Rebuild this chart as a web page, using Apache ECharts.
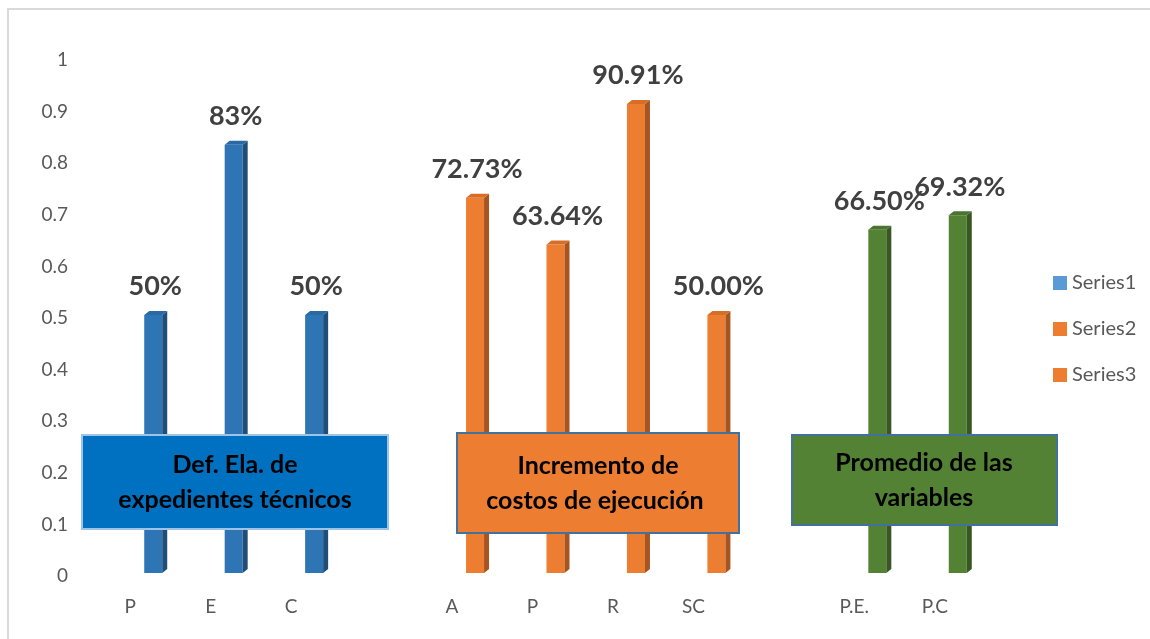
<!DOCTYPE html>
<html>
<head>
<meta charset="utf-8">
<script src="https://cdn.jsdelivr.net/npm/echarts@6/dist/echarts.min.js"></script>
<style>
  html, body { margin: 0; padding: 0; background: #fff; }
  #chart { width: 1150px; height: 639px; }
</style>
</head>
<body>
<div id="chart"></div>
<script>
// categorias (con huecos entre grupos)
const categories = ['P', 'E', 'C', '', 'A', 'P', 'R', 'SC', '', 'P.E.', 'P.C']
const yTicks = [0, 0.1, 0.2, 0.3, 0.4, 0.5, 0.6, 0.7, 0.8, 0.9, 1]

const series1Idx = [0, 1, 2]
const series1Val = [0.5, 0.83, 0.5]
const series2Idx = [4, 5, 6, 7]
const series2Val = [0.7273, 0.6364, 0.9091, 0.5]
const series3Idx = [9, 10]
const series3Val = [0.665, 0.6932]

const FONT = 'Lato, "Open Sans", sans-serif'

// barra 3D: cara frontal, lateral y superior
function bar3d(colors, decimals) {
  return function(params, api) {
    const base = api.coord([api.value(0), 0])
    const top = api.coord([api.value(0), api.value(1)])
    const w = 18
    const dx = 5
    const dy = 4
    const xl = base[0] + 14
    const xr = xl + w
    const yb = base[1] - 3
    const yt = top[1] - 3
    return {
      type: 'group',
      children: [
        {
          type: 'rect',
          shape: { x: xl, y: yt, width: w, height: yb - yt },
          style: { fill: colors[0] }
        },
        {
          type: 'polygon',
          shape: { points: [[xr, yt], [xr + dx, yt - dy], [xr + dx, yb - dy], [xr, yb]] },
          style: { fill: colors[1] }
        },
        {
          type: 'polygon',
          shape: { points: [[xl, yt], [xl + dx, yt - dy], [xr + dx, yt - dy], [xr, yt]] },
          style: { fill: colors[2] }
        },
        {
          type: 'text',
          style: {
            x: xl + 11,
            y: yt - 15,
            text: (api.value(1) * 100).toFixed(decimals) + '%',
            align: 'center',
            verticalAlign: 'bottom',
            fill: '#404040',
            font: 'bold 27px ' + FONT
          }
        }
      ]
    }
  }
}

function pairs(idx, vals) {
  return idx.map((c, i) => [c, vals[i]])
}

function textBox(x, y, w, h, fill, stroke, lines, cx) {
  return {
    type: 'group',
    zlevel: 1,
    children: [
      {
        type: 'rect',
        z: 100,
        zlevel: 1,
        shape: { x: x, y: y, width: w, height: h },
        style: { fill: fill, stroke: stroke, lineWidth: 2 }
      },
      {
        type: 'text',
        z: 101,
        zlevel: 1,
        style: {
          x: cx,
          y: y + h / 2,
          text: lines.join('\n'),
          align: 'center',
          verticalAlign: 'middle',
          lineHeight: 35,
          fill: '#000',
          font: 'bold 25px ' + FONT
        }
      }
    ]
  }
}

const myChart = echarts.init(document.getElementById('chart'))
myChart.setOption({
  animation: false,
  backgroundColor: '#fff',
  grid: { left: 90, right: 175, top: 60, bottom: 63 },
  legend: {
    orient: 'vertical',
    left: 1048,
    top: 268,
    itemWidth: 14,
    itemHeight: 14,
    itemGap: 26,
    icon: 'rect',
    textStyle: { color: '#595959', fontSize: 20, fontFamily: FONT },
    data: ['Series1', 'Series2', 'Series3']
  },
  xAxis: {
    type: 'category',
    data: categories,
    axisLine: { show: false },
    axisTick: { show: false },
    axisLabel: { color: '#595959', fontSize: 19, fontFamily: FONT, margin: 21, interval: 0 }
  },
  yAxis: {
    type: 'value',
    min: yTicks[0],
    max: yTicks[yTicks.length - 1],
    interval: 0.1,
    splitLine: { show: false },
    axisLine: { show: false },
    axisTick: { show: false },
    axisLabel: { color: '#595959', fontSize: 19, fontFamily: FONT, margin: 22 }
  },
  series: [
    {
      name: 'Series1',
      type: 'custom',
      itemStyle: { color: '#5B9BD5' },
      renderItem: bar3d(['#2E75B6', '#1F4E79', '#2A69A3'], 0),
      data: pairs(series1Idx, series1Val)
    },
    {
      name: 'Series2',
      type: 'custom',
      itemStyle: { color: '#ED7D31' },
      renderItem: bar3d(['#ED7D31', '#A85420', '#D66E28'], 2),
      data: pairs(series2Idx, series2Val)
    },
    {
      name: 'Series3',
      type: 'custom',
      itemStyle: { color: '#ED7D31' },
      renderItem: bar3d(['#548235', '#385723', '#4A7430'], 2),
      data: pairs(series3Idx, series3Val)
    }
  ],
  graphic: [
    {
      type: 'rect',
      z: -1,
      shape: { x: 8, y: 9, width: 1170, height: 660 },
      style: { fill: 'none', stroke: '#D9D9D9', lineWidth: 2 }
    },
    textBox(82, 435, 306, 94, '#0070C0', '#9DC3E6', ['Def. Ela. de', 'expedientes técnicos'], 235),
    textBox(457, 433, 282, 100, '#ED7D31', '#41719C', ['Incremento de', 'costos de ejecución '], 598),
    textBox(792, 435, 265, 90, '#548235', '#41719C', ['Promedio de las', 'variables'], 924)
  ]
})
window.addEventListener('resize', function() {
  myChart.resize()
})
</script>
</body>
</html>
